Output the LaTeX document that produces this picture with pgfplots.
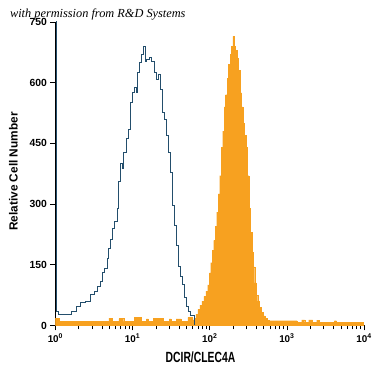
\documentclass[border=0pt]{standalone}
\usepackage{pgfplots}
\pgfplotsset{compat=1.18}
\usepackage{pgfplotstable}
\usepackage{fontspec}
\setmainfont{Liberation Sans}
\newfontfamily\condfont[FakeStretch=0.70]{Liberation Sans}
\newfontfamily\wmfont{Liberation Serif}
\definecolor{historange}{RGB}{247,161,32}
\definecolor{histblue}{RGB}{35,78,108}

\pgfplotstableread{
lx val
0.000 18
0.051 10
0.692 18
0.731 10
0.821 17
0.885 10
1.026 20
1.115 10
1.179 16
1.205 10
1.269 17
1.397 10
1.474 16
1.500 10
1.564 16
1.628 10
1.718 20
1.769 14
1.795 18
1.821 28
1.846 40
1.872 50
1.897 60
1.923 72
1.949 85
1.974 100
1.994 130
2.013 155
2.032 185
2.051 210
2.071 245
2.090 280
2.109 325
2.128 370
2.147 440
2.167 480
2.186 540
2.205 570
2.224 610
2.244 645
2.263 670
2.282 690
2.301 714
2.314 690
2.333 680
2.353 660
2.372 630
2.391 575
2.410 540
2.429 500
2.449 470
2.468 440
2.487 370
2.506 290
2.526 230
2.545 180
2.564 145
2.583 105
2.603 75
2.622 60
2.641 45
2.667 32
2.692 24
2.718 18
2.744 13
2.769 12
3.128 8
3.192 14
3.231 8
3.282 14
3.333 8
3.385 13
3.423 8
3.615 12
3.641 8
3.987 0
4.000 0
}\orangedata

\pgfplotstableread{
lx val
0.000 800
0.017 36
0.043 28
0.201 36
0.265 48
0.329 56
0.393 60
0.457 77
0.500 85
0.543 97
0.585 109
0.607 130
0.628 142
0.671 167
0.692 191
0.714 212
0.744 240
0.769 257
0.799 289
0.821 355
0.842 400
0.863 387
0.885 428
0.915 461
0.940 485
0.970 551
1.000 575
1.026 587
1.043 575
1.064 624
1.085 649
1.111 669
1.141 690
1.162 653
1.184 657
1.214 661
1.248 653
1.282 624
1.312 608
1.333 620
1.355 583
1.385 526
1.410 510
1.436 469
1.462 428
1.487 379
1.513 297
1.538 248
1.564 199
1.590 146
1.615 122
1.641 101
1.667 69
1.692 48
1.718 36
1.752 26
1.803 0
}\bluedata

\begin{document}
\begin{tikzpicture}
\begin{axis}[
  at={(56bp,46bp)}, anchor=south west,
  scale only axis, width=312bp, height=307bp,
  xmode=log, xmin=1, xmax=10000, ymin=0, ymax=750,
  axis x line=bottom, axis y line=left,
  axis line style={-, black, line width=0.8pt},
  tick align=outside, major tick length=5bp, minor tick length=4bp,
  tick style={black, line width=0.5pt},
  xtick={1,10,100,1000,10000},
  xticklabels={10\textsuperscript{0},10\textsuperscript{1},10\textsuperscript{2},10\textsuperscript{3},10\textsuperscript{4}},
  ytick={0,150,300,450,600,750},
  yticklabels={0,150,300,450,600,750},
  xticklabel style={font=\fontsize{10}{11}\selectfont\bfseries},
  yticklabel style={font=\fontsize{10.5}{11}\selectfont\bfseries},
  xlabel={DCIR/CLEC4A},
  xlabel style={font=\condfont\fontsize{15}{16}\selectfont\bfseries, at={(rel axis cs:0.47,-0.104)}, anchor=center},
  ylabel={Relative Cell Number},
  ylabel style={font=\fontsize{12}{13}\selectfont\bfseries, at={(rel axis cs:-0.136,0.507)}, anchor=center},
  clip=true,
]
\addplot[const plot, fill=historange, draw=historange, line width=0.2pt]
  table[x expr={10^\thisrow{lx}}, y=val] {\orangedata} \closedcycle;
\addplot[const plot, draw=histblue, line width=0.7pt]
  table[x expr={10^\thisrow{lx}}, y=val] {\bluedata};
\end{axis}
\node[anchor=base west, font=\wmfont\itshape\fontsize{12.5}{13}\selectfont, inner sep=0pt]
  at (10bp,357bp) {with permission from R\&D Systems};
\path[use as bounding box] (0,0) rectangle (375bp,375bp);
\end{tikzpicture}
\end{document}
